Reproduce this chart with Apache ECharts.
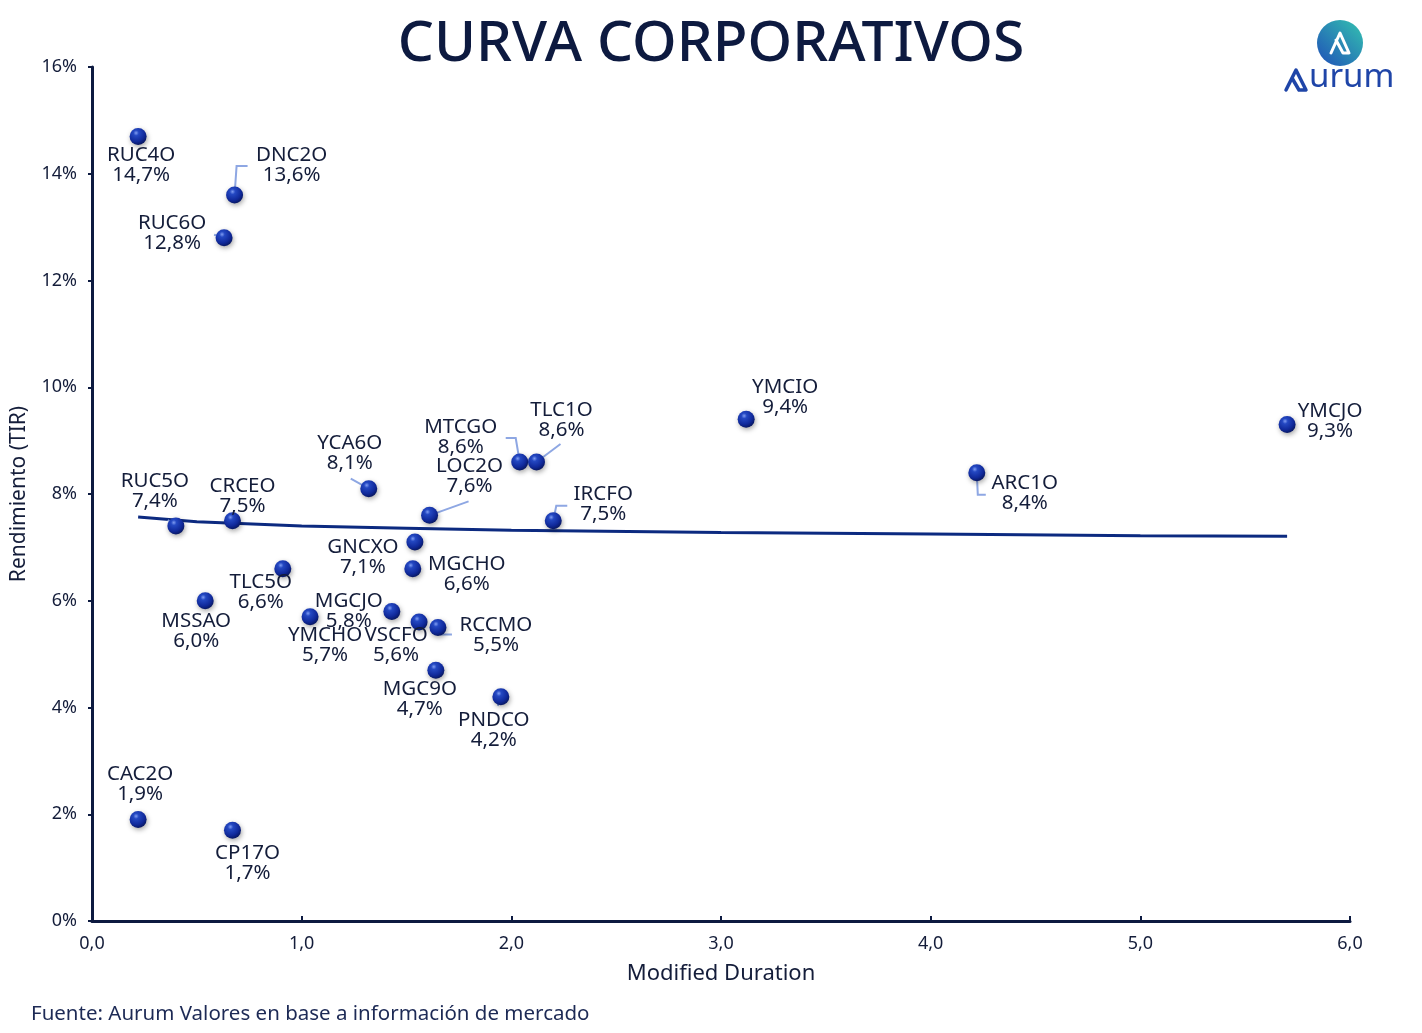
<!DOCTYPE html>
<html>
<head>
<meta charset="utf-8">
<script src="https://cdn.jsdelivr.net/npm/echarts@6/dist/echarts.min.js"></script>
<style>
html,body{margin:0;padding:0;background:#fff;}
#chart{width:1422px;height:1033px;}
</style>
</head>
<body>
<div id="chart"></div>
<script>
// ---- data ----
const names = ['RUC4O','DNC2O','RUC6O','YMCIO','YMCJO','ARC1O','MTCGO','TLC1O','YCA6O','LOC2O','IRCFO','RUC5O','CRCEO','GNCXO','MGCHO','TLC5O','MSSAO','MGCJO','YMCHO','VSCFO','RCCMO','MGC9O','PNDCO','CAC2O','CP17O'];
const duration = [0.22,0.68,0.63,3.12,5.70,4.22,2.04,2.12,1.32,1.61,2.20,0.40,0.67,1.54,1.53,0.91,0.54,1.43,1.04,1.56,1.65,1.64,1.95,0.22,0.67];
const yields = [14.7,13.6,12.8,9.4,9.3,8.4,8.6,8.6,8.1,7.6,7.5,7.4,7.5,7.1,6.6,6.6,6.0,5.8,5.7,5.6,5.5,4.7,4.2,1.9,1.7];
// trend line
const trendX = [0.22,0.5,1.0,1.5,2.0,3.0,4.0,5.0,5.70];
const trendY = [7.57,7.48,7.40,7.36,7.32,7.28,7.25,7.22,7.21];
const yTicks = [0,2,4,6,8,10,12,14,16];

// ---- layout (label offsets in px, leader polylines in px) ----
const labelOffsets = {
  RUC4O:[3,29], DNC2O:[57,-30], RUC6O:[-52,-5], YMCIO:[39,-22], YMCJO:[43,-3],
  ARC1O:[48,21], MTCGO:[-59,-25], TLC1O:[25,-42], YCA6O:[-19,-36], LOC2O:[40,-39],
  IRCFO:[50,-17], RUC5O:[-21,-35], CRCEO:[10,-25], GNCXO:[-52,15], MGCHO:[54,5],
  TLC5O:[-22,23], MSSAO:[-9,30], MGCJO:[-43,0], YMCHO:[15,28], VSCFO:[-23,23],
  RCCMO:[58,8], MGC9O:[-16,29], PNDCO:[-7,33], CAC2O:[2,-35], CP17O:[15,33]
};
const leaders = {
  DNC2O:[[0,0],[2,-29],[13,-29]],
  RUC6O:[[-10,-3],[0,0]],
  ARC1O:[[0,0],[1,22],[9,22]],
  MTCGO:[[-14,-24],[-4,-24],[0,0]],
  TLC1O:[[0,0],[24,-18]],
  YCA6O:[[-18,-10],[0,0]],
  LOC2O:[[0,0],[39,-14]],
  IRCFO:[[0,0],[3,-15],[14,-15]],
  RCCMO:[[0,0],[3,7],[14,7]],
  RUC5O:[[-8,-6],[0,0]],
  PNDCO:[[0,0],[-3,9]]
};

const NAVY = '#0d1a40';
const TXT = '#141d3a';
const FONT = 'Noto Sans';

const fmt1 = v => v.toFixed(1).replace('.', ',');

const scatterData = names.map((n,i)=>({
  name:n,
  value:[duration[i], yields[i]],
  label:{offset: labelOffsets[n] || [0,-25]}
}));
const leaderData = [];
names.forEach((n,i)=>{ if(leaders[n]) leaderData.push([duration[i], yields[i], i]); });

const sphere = new echarts.graphic.RadialGradient(0.38,0.3,0.72,[
  {offset:0,color:'#7f9cf2'},
  {offset:0.22,color:'#2448c2'},
  {offset:0.7,color:'#10299a'},
  {offset:1,color:'#081760'}
]);

const chart = echarts.init(document.getElementById('chart'), null, {renderer:'canvas'});
chart.setOption({
  backgroundColor:'#fff',
  animation:false,
  title:{
    text:'CURVA CORPORATIVOS', left:'center', top:11,
    textStyle:{fontFamily:FONT, fontSize:57, fontWeight:500, color:NAVY}
  },
  grid:{left:92, right:72, top:67, bottom:112, containLabel:false, outerBoundsMode:'none'},
  xAxis:{
    type:'value', min:0, max:6, interval:1,
    name:'Modified Duration', nameLocation:'middle', nameGap:42,
    nameTextStyle:{fontFamily:FONT, fontSize:22, color:TXT},
    axisLine:{show:true, lineStyle:{color:NAVY, width:3}},
    axisTick:{show:true, inside:true, length:5, lineStyle:{color:NAVY, width:2}},
    axisLabel:{fontFamily:FONT, fontSize:18, color:TXT, margin:14, formatter:v=>fmt1(v)},
    splitLine:{show:false}
  },
  yAxis:{
    type:'value', min:yTicks[0], max:yTicks[yTicks.length-1], interval:2,
    name:'Rendimiento (TIR)', nameLocation:'middle', nameGap:62, nameRotate:90,
    nameTextStyle:{fontFamily:FONT, fontSize:21, color:TXT},
    axisLine:{show:true, lineStyle:{color:NAVY, width:3}},
    axisTick:{show:true, length:4, lineStyle:{color:NAVY, width:2}},
    axisLabel:{fontFamily:FONT, fontSize:18, color:TXT, margin:15, formatter:v=>v+'%'},
    splitLine:{show:false}
  },
  series:[
    {
      type:'line', data:trendX.map((x,i)=>[x,trendY[i]]), smooth:false,
      symbol:'none', lineStyle:{color:'#0c2a80', width:3}, z:2, silent:true
    },
    {
      type:'custom', z:3, silent:true,
      data:leaderData,
      renderItem:(params, api)=>{
        const p = api.coord([api.value(0), api.value(1)]);
        const n = names[api.value(2)];
        return {
          type:'polyline',
          shape:{points: leaders[n].map(o=>[p[0]+o[0], p[1]+o[1]])},
          style:{stroke:'#8ea7e3', lineWidth:2, fill:null}
        };
      }
    },
    {
      type:'scatter', z:5, symbolSize:17,
      data:scatterData,
      itemStyle:{color:sphere, opacity:1, shadowBlur:5, shadowColor:'rgba(0,0,0,0.35)', shadowOffsetY:2, shadowOffsetX:1},
      label:{
        show:true, position:'inside',
        formatter:p=>p.name+'\n'+fmt1(p.value[1])+'%',
        fontFamily:FONT, fontSize:20.5, lineHeight:20, color:TXT, align:'center',
        textBorderWidth:0
      }
    }
  ],
  graphic:[
    {
      type:'text', left:31, top:1004,
      style:{text:'Fuente: Aurum Valores en base a información de mercado', fontFamily:FONT, fontSize:20.5, fill:'#1d2a55'}
    },
    {
      type:'circle', shape:{cx:1340, cy:43, r:23},
      style:{fill:new echarts.graphic.LinearGradient(1,0,0,1,[{offset:0,color:'#34c3b0'},{offset:1,color:'#1f4fb8'}])}
    },
    {
      type:'polyline', shape:{points:[[1331,53],[1340,33],[1349,53],[1343,53],[1336,40]]},
      style:{stroke:'#fff', lineWidth:3, fill:null, lineJoin:'round', lineCap:'round'}
    },
    {
      type:'polyline', shape:{points:[[1286,90],[1296,70],[1306,90],[1299,90],[1292,78]]},
      style:{stroke:'#1f45a8', lineWidth:3.5, fill:null, lineJoin:'round', lineCap:'round'}
    },
    {
      type:'text', left:1309, top:61,
      style:{text:'urum', fontFamily:FONT, fontSize:33, fontWeight:'normal', fill:'#1f45a8'}
    }
  ]
});
</script>
</body>
</html>
